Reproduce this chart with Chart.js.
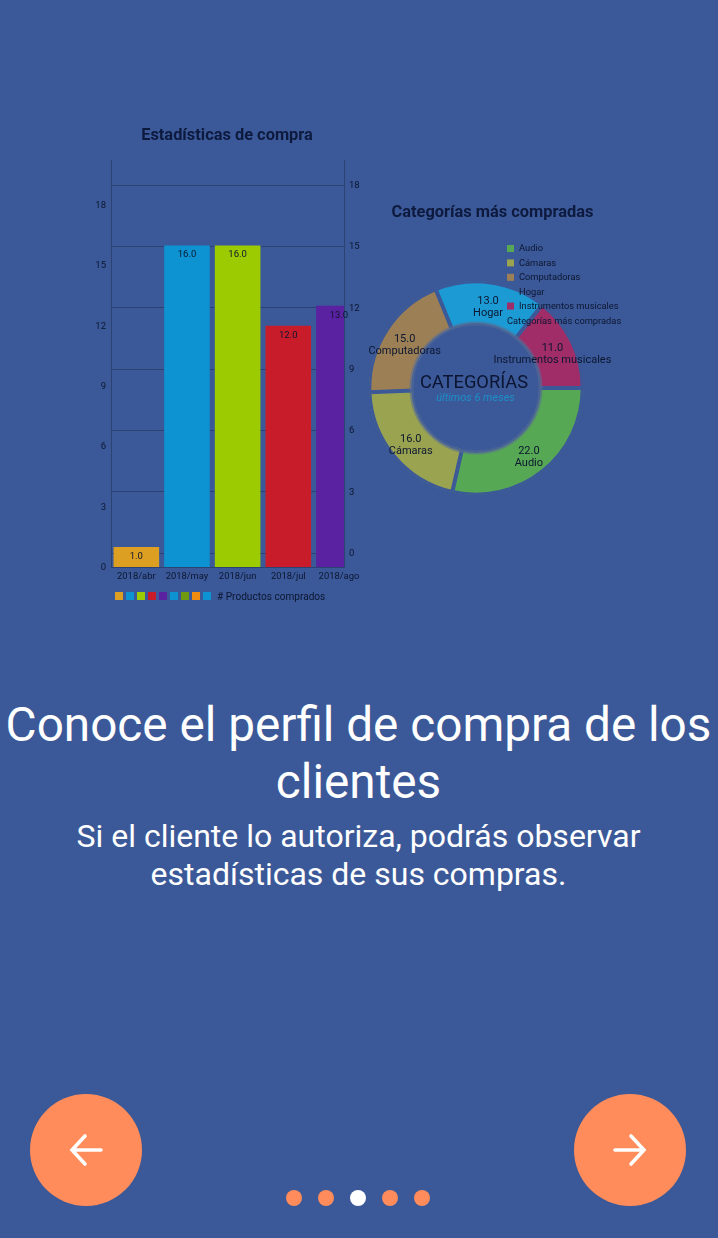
<!DOCTYPE html>
<html>
<head>
<meta charset="utf-8">
<script src="https://cdn.jsdelivr.net/npm/chart.js@4/dist/chart.umd.min.js"></script>
<style>
  html, body { margin: 0; padding: 0; }
  body { width: 718px; height: 1238px; background: #3b5998; position: relative; overflow: hidden; font-family: Roboto, sans-serif; color: #fff; }
  canvas { position: absolute; }
  #barChart { left: 80px; top: 120px; }
  #donutChart { left: 360px; top: 195px; }
  .heading { position: absolute; left: -0.5px; width: 718px; text-align: center; }
  #h1 { top: 697px; font-size: 47.7px; line-height: 57px; white-space: nowrap; }
  #h2 { top: 817px; font-size: 32px; line-height: 38px; }
  .btn { position: absolute; top: 1094px; width: 112px; height: 112px; border-radius: 50%; background: #ff8c5a; }
  .btn svg { position: absolute; left: 36px; top: 36px; }
  .dot { position: absolute; top: 1190px; width: 16px; height: 16px; border-radius: 50%; background: #ff8c5a; }
</style>
</head>
<body>
<canvas id="barChart" width="300" height="490"></canvas>
<canvas id="donutChart" width="270" height="310"></canvas>

<div class="heading" id="h1">Conoce el perfil de compra de los<br>clientes</div>
<div class="heading" id="h2">Si el cliente lo autoriza, podrás observar<br>estadísticas de sus compras.</div>

<div class="btn" style="left:30px"><svg width="40" height="40" viewBox="0 0 40 40" fill="none" stroke="#fff" stroke-width="3.6" stroke-linecap="round"><path d="M35 20H6M19 6L6 20l13 14"/></svg></div>
<div class="btn" style="left:574px"><svg width="40" height="40" viewBox="0 0 40 40" fill="none" stroke="#fff" stroke-width="3.6" stroke-linecap="round"><path d="M5 20h29M21 6l13 14-13 14"/></svg></div>
<div class="dot" style="left:286px"></div>
<div class="dot" style="left:318px"></div>
<div class="dot" style="left:350px;background:#fff"></div>
<div class="dot" style="left:382px"></div>
<div class="dot" style="left:414px"></div>

<script>
// bar chart data
var months = ["2018/abr", "2018/may", "2018/jun", "2018/jul", "2018/ago"];
var bought = [1, 16, 16, 12, 13];
var barColors = ["#dd9f22", "#0d93d2", "#9bcb00", "#c91c2b", "#5a22a0"];
var swatchColors = ["#dd9f22", "#0d93d2", "#9bcb00", "#c91c2b", "#5a22a0", "#0d93d2", "#6f9a10", "#f08c10", "#0d93d2"];
var barLegend = "# Productos comprados";
var leftTicks = [0, 3, 6, 9, 12, 15, 18];
var rightTicks = [0, 3, 6, 9, 12, 15, 18];

// doughnut data
var categories = ["Audio", "Cámaras", "Computadoras", "Hogar", "Instrumentos musicales"];
var purchases = [22, 16, 15, 13, 11];
var catColors = ["#56a854", "#9aa350", "#9c7f55", "#1c9ad3", "#a02c68"];
var legendColors = ["#56a854", "#9aa350", "#9c7f55", "transparent", "#a02c68"];

var dark = "#0d1a3e";
var textCol = "#0c1630";
var gridCol = "#2c4272";
Chart.defaults.font.family = "Roboto";

var barExtras = {
  id: "barExtras",
  afterDatasetsDraw: function (chart) {
    var ctx = chart.ctx;
    var meta = chart.getDatasetMeta(0);
    ctx.save();
    ctx.font = "9.5px Roboto";
    ctx.fillStyle = textCol;
    ctx.textAlign = "center";
    ctx.textBaseline = "middle";
    meta.data.forEach(function (bar, i) {
      ctx.fillText(bought[i].toFixed(1), bar.x, bar.y + 9.5);
    });
    ctx.textAlign = "left";
    swatchColors.forEach(function (c, i) {
      ctx.fillStyle = c;
      ctx.fillRect(35 + i * 11, 472, 8, 8);
    });
    ctx.fillStyle = textCol;
    ctx.font = "10.1px Roboto";
    ctx.fillText(barLegend, 137, 477);
    ctx.restore();
  }
};

new Chart(document.getElementById("barChart"), {
  type: "bar",
  data: {
    datasets: [{
      label: barLegend,
      data: bought.map(function (v, i) { return { x: i, y: v }; }),
      backgroundColor: barColors,
      barPercentage: 0.9,
      categoryPercentage: 1
    }]
  },
  options: {
    responsive: false,
    animation: false,
    layout: { padding: { top: 40, bottom: 0 } },
    plugins: {
      legend: { display: false },
      tooltip: { enabled: false },
      title: { display: false }
    },
    scales: {
      x: {
        type: "linear",
        offset: false,
        min: -0.5,
        max: 4.1,
        afterBuildTicks: function (s) { s.ticks = months.map(function (m, i) { return { value: i }; }); },
        afterFit: function (s) { s.height = 43; },
        grid: { display: false, drawTicks: false, offset: false },
        border: { color: gridCol },
        ticks: {
          color: textCol,
          font: { size: 9.4 },
          padding: 4,
          maxRotation: 0,
          autoSkip: false,
          callback: function (v) { return months[v]; }
        }
      },
      y: {
        min: 0,
        max: 20.25,
        position: "left",
        afterBuildTicks: function (s) { s.ticks = leftTicks.map(function (v) { return { value: v }; }); },
        afterFit: function (s) { s.width = 31; },
        grid: { display: false, drawTicks: false },
        border: { color: gridCol },
        ticks: { color: textCol, font: { size: 9.5 }, padding: 5, labelOffset: 0.5 }
      },
      y2: {
        min: -0.68,
        max: 19.23,
        position: "right",
        afterBuildTicks: function (s) { s.ticks = rightTicks.map(function (v) { return { value: v }; }); },
        afterFit: function (s) { s.width = 36; },
        grid: { color: gridCol, drawTicks: false },
        border: { color: gridCol },
        ticks: { color: textCol, font: { size: 9.5 }, padding: 5, labelOffset: 0.5 }
      }
    }
  },
  plugins: [barExtras, {
    id: "barTitle",
    beforeDraw: function (chart) {
      var ctx = chart.ctx;
      ctx.save();
      ctx.font = "bold 16.4px Roboto";
      ctx.fillStyle = dark;
      ctx.textAlign = "center";
      ctx.textBaseline = "middle";
      ctx.fillText("Estadísticas de compra", 147, 16);
      ctx.restore();
    }
  }]
});

var donutExtras = {
  id: "donutExtras",
  afterDatasetsDraw: function (chart) {
    var ctx = chart.ctx;
    var meta = chart.getDatasetMeta(0);
    var arc0 = meta.data[0];
    ctx.save();
    // lighter ring round the hole
    ctx.beginPath();
    ctx.arc(arc0.x, arc0.y, arc0.innerRadius + 2, 0, Math.PI * 2);
    ctx.lineWidth = 4;
    ctx.strokeStyle = "rgba(90,110,150,0.55)";
    ctx.stroke();

    // value and name on each slice
    ctx.fillStyle = textCol;
    ctx.textAlign = "center";
    ctx.textBaseline = "middle";
    ctx.font = "11px Roboto";
    meta.data.forEach(function (a, i) {
      var mid = (a.startAngle + a.endAngle) / 2;
      var r = (a.innerRadius + a.outerRadius) / 2;
      var x = a.x + Math.cos(mid) * r;
      var y = a.y + Math.sin(mid) * r;
      ctx.fillText(purchases[i].toFixed(1), x, y - 3);
      ctx.fillText(categories[i], x, y + 9);
    });

    // centre text
    ctx.font = "18.3px Roboto";
    ctx.fillStyle = "#0b1430";
    ctx.fillText("CATEGORÍAS", arc0.x - 2, arc0.y - 5);
    ctx.font = "italic 11px Roboto";
    ctx.fillStyle = "#1c8fc8";
    ctx.fillText("últimos 6 meses", arc0.x - 0.5, arc0.y + 10.5);

    // legend block
    ctx.textAlign = "left";
    ctx.font = "9.3px Roboto";
    categories.forEach(function (c, i) {
      ctx.fillStyle = legendColors[i];
      ctx.fillRect(147, 50 + i * 14.4, 7, 7);
      ctx.fillStyle = textCol;
      ctx.fillText(c, 159, 54 + i * 14.4);
    });
    ctx.fillText("Categorías más compradas", 147, 126.5);

    ctx.font = "bold 16.4px Roboto";
    ctx.fillStyle = dark;
    ctx.textAlign = "center";
    ctx.fillText("Categorías más compradas", 132.5, 18);
    ctx.restore();
  }
};

new Chart(document.getElementById("donutChart"), {
  type: "doughnut",
  data: {
    labels: categories,
    datasets: [{
      data: purchases,
      backgroundColor: catColors,
      borderColor: "#3b5998",
      borderWidth: 2,
      borderAlign: "inner"
    }]
  },
  options: {
    responsive: false,
    animation: false,
    rotation: 90,
    cutout: "58.5%",
    radius: 107,
    layout: { padding: { left: 0, right: 38, top: 76, bottom: 0 } },
    plugins: { legend: { display: false }, tooltip: { enabled: false } }
  },
  plugins: [donutExtras]
});
</script>
</body>
</html>
